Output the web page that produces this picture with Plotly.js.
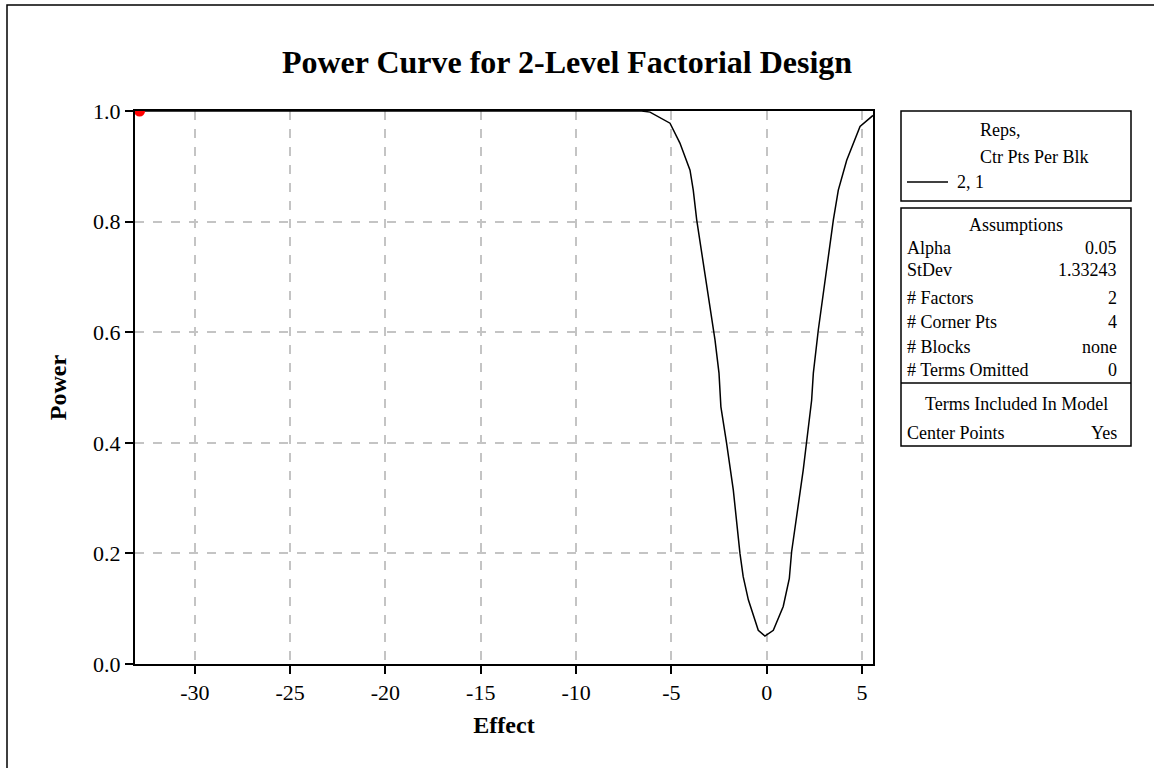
<!DOCTYPE html>
<html>
<head>
<meta charset="utf-8">
<script src="https://cdn.plot.ly/plotly-3.0.1.min.js"></script>
<style>html,body{margin:0;padding:0;background:#fff;}#chart{width:1154px;height:768px;}</style>
</head>
<body>
<div id="chart"></div>
<script>
// ---- data ----
const effect = [-33.14, -6.56, -6.12, -5.07, -4.55, -4.02, -3.85, -3.67, -3.24, -2.71, -2.50, -2.40, -2.10, -1.75, -1.40, -1.23, -0.96, -0.44, -0.09, 0.35, 0.87, 1.19, 1.31, 1.92, 2.36, 2.45, 2.71, 3.50, 3.76, 4.20, 4.90, 5.51, 5.58];
const power  = [1.0, 1.0, 0.998, 0.978, 0.942, 0.893, 0.857, 0.803, 0.706, 0.586, 0.526, 0.465, 0.399, 0.315, 0.200, 0.158, 0.116, 0.061, 0.0506, 0.061, 0.104, 0.155, 0.203, 0.351, 0.477, 0.526, 0.604, 0.803, 0.857, 0.911, 0.972, 0.990, 0.992];
const targetEffect = [-32.9];
const targetPower = [1.0];
const xTicks = [-30, -25, -20, -15, -10, -5, 0, 5];
const yTicks = [0, 0.2, 0.4, 0.6, 0.8, 1.0];
const yTickText = ["0.0", "0.2", "0.4", "0.6", "0.8", "1.0"];
const legendHeader = ["Reps,", "Ctr Pts Per Blk"];
const legendEntry = "2, 1";
const assumLabels = ["Alpha", "StDev", "# Factors", "# Corner Pts", "# Blocks", "# Terms Omitted"];
const assumValues = ["0.05", "1.33243", "2", "4", "none", "0"];
const termsLabel = ["Center Points"];
const termsValue = ["Yes"];

// ---- layout helpers (pixel -> paper) ----
const L = 135, R = 873, T = 111, B = 664;
const px = x => (x - L) / (R - L);
const py = y => (B - y) / (B - T);
const FONT = "Liberation Serif, Times New Roman, serif";

const shapes = [];
const annotations = [];
function box(x0, y0, x1, y1) {
  shapes.push({type: 'rect', xref: 'paper', yref: 'paper', x0: px(x0), x1: px(x1), y0: py(y1), y1: py(y0),
    line: {color: '#000', width: 1.5}, fillcolor: 'rgba(0,0,0,0)'});
}
function hline(x0, x1, y, w) {
  shapes.push({type: 'line', xref: 'paper', yref: 'paper', x0: px(x0), x1: px(x1), y0: py(y), y1: py(y),
    line: {color: '#000', width: w || 1.5}});
}
function txt(s, x, y, anchor, size) {
  annotations.push({text: s, xref: 'paper', yref: 'paper', x: px(x), y: py(y), xanchor: anchor, yanchor: 'middle',
    showarrow: false, font: {family: FONT, size: size || 18, color: '#000'}});
}

// outer frame
shapes.push({type: 'rect', xref: 'paper', yref: 'paper', x0: px(7), x1: px(1170), y0: py(790), y1: py(5),
  line: {color: '#000', width: 1.5}, fillcolor: 'rgba(0,0,0,0)', layer: 'below'});

// legend box
box(901, 111, 1131, 201);
txt(legendHeader[0], 978, 130, 'left');
txt(legendHeader[1], 978, 157, 'left');
hline(907, 948, 182, 1.5);
txt(legendEntry, 955, 182, 'left');

// assumptions box
box(901, 208, 1131, 446);
txt("Assumptions", 1016, 225, 'center');
const rowY = [248, 270, 298, 322, 347, 370];
assumLabels.forEach((s, i) => { txt(s, 905, rowY[i], 'left'); txt(assumValues[i], 1119, rowY[i], 'right'); });
hline(901, 1131, 383, 1.5);
txt("Terms Included In Model", 1016, 404, 'center');
termsLabel.forEach((s, i) => { txt(s, 905, 433, 'left'); txt(termsValue[i], 1119, 433, 'right'); });

const traces = [
  {x: effect, y: power, type: 'scatter', mode: 'lines', line: {color: '#000', width: 1.5}, hoverinfo: 'skip'},
  {x: targetEffect, y: targetPower, type: 'scatter', mode: 'markers', marker: {color: '#ff0000', size: 11}, cliponaxis: true}
];

const layout = {
  width: 1154, height: 768,
  margin: {l: L, r: 1154 - R, t: T, b: 768 - B, pad: 0},
  paper_bgcolor: '#fff', plot_bgcolor: '#fff',
  showlegend: false,
  font: {family: FONT, color: '#000'},
  title: {text: '<b>Power Curve for 2-Level Factorial Design</b>', font: {family: FONT, size: 32, color: '#000'},
    xref: 'container', yref: 'container', x: 567 / 1154, xanchor: 'center', y: 1 - 62 / 768, yanchor: 'middle'},
  xaxis: {
    range: [-33.14, 5.58], tickvals: xTicks, ticktext: xTicks.map(String),
    ticks: 'outside', ticklen: 8, tickwidth: 1.5, tickcolor: '#000',
    showline: true, linecolor: '#000', linewidth: 2, mirror: true,
    showgrid: true, gridcolor: '#c4c4c4', gridwidth: 1.5, griddash: 'dash',
    zeroline: false, tickfont: {family: FONT, size: 22, color: '#000'},
    title: {text: '<b>Effect</b>', font: {family: FONT, size: 24, color: '#000'}, standoff: 12}
  },
  yaxis: {
    range: [0, 1], tickvals: yTicks, ticktext: yTickText,
    ticks: 'outside', ticklen: 8, tickwidth: 1.5, tickcolor: '#000',
    showline: true, linecolor: '#000', linewidth: 2, mirror: true,
    showgrid: true, gridcolor: '#c4c4c4', gridwidth: 1.5, griddash: 'dash',
    zeroline: false, tickfont: {family: FONT, size: 22, color: '#000'},
    title: {text: '<b>Power</b>', font: {family: FONT, size: 24, color: '#000'}, standoff: 20}
  },
  shapes: shapes,
  annotations: annotations
};

Plotly.newPlot('chart', traces, layout, {displayModeBar: false, responsive: false});
</script>
</body>
</html>
